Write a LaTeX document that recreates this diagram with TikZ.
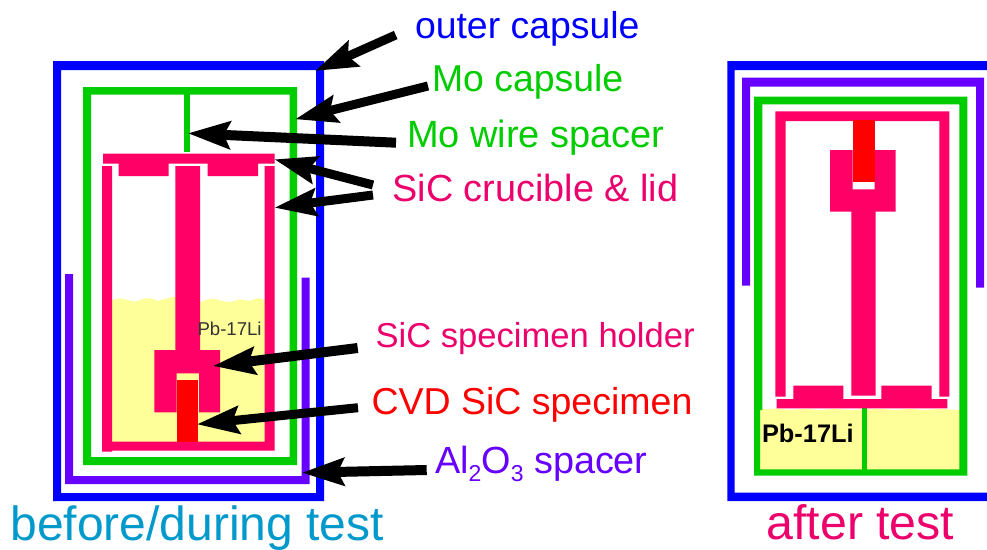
\documentclass[tikz,border=0pt]{standalone}
\usepackage{fontspec}
\setmainfont{Liberation Sans}
\usetikzlibrary{arrows.meta}
\definecolor{capblue}{HTML}{0000FF}
\definecolor{mogreen}{HTML}{00CC00}
\definecolor{sicpink}{HTML}{FF0066}
\definecolor{sictext}{HTML}{EC006C}
\definecolor{spred}{HTML}{FF0000}
\definecolor{alpurple}{HTML}{6600FF}
\definecolor{pbyellow}{HTML}{FFFF99}
\definecolor{capteal}{HTML}{0099CC}
\tikzset{
  blueshape/.style={fill=capblue,draw=none},
  greenshape/.style={fill=mogreen,draw=none},
  pinkshape/.style={fill=sicpink,draw=none},
  redshape/.style={fill=spred,draw=none},
  purpleshape/.style={fill=alpurple,draw=none},
  yellowshape/.style={fill=pbyellow,draw=none},
  lbl/.style={anchor=base west,inner sep=0pt,outer sep=0pt,font=\fontsize{#1}{40}\selectfont},
  pointer/.style={draw=black,line width=#1,-{Stealth[length=42pt,width=27pt,inset=6pt]}},
  pointer/.default=9pt
}
\begin{document}
\begin{tikzpicture}[x=1pt,y=-1pt]
\useasboundingbox (0,0) rectangle (987,549);

% ---------- before/during test ----------
% outer capsule
\fill[blueshape] (53,61) -- (324,61) -- (324,501) -- (53,501) -- cycle
  (61,70) -- (61,493) -- (316,493) -- (316,70) -- cycle;
% Al2O3 spacer
\fill[purpleshape] (65,274) -- (73,274) -- (73,476) -- (301.5,476) -- (301.5,277.5) -- (309.5,277.5) -- (309.5,484) -- (65,484) -- cycle;
% Mo capsule
\fill[greenshape] (83,87) -- (297,87) -- (297,465) -- (83,465) -- cycle
  (91,94.5) -- (91,457) -- (289.5,457) -- (289.5,94.5) -- cycle;
\fill[greenshape] (183.5,94) rectangle (190,151.5);
% Pb-17Li
\fill[yellowshape] (112,300) -- (120,298.5) -- (128,300) -- (135,302) -- (143,299) -- (150,298) -- (158,301) -- (166,298.5) -- (175,296.5)
  -- (200,302) -- (206,300) -- (213,298.5) -- (222,301) -- (230,302) -- (240,299.5) -- (250,301) -- (258,298) -- (265,300) -- (265,442) -- (112,442) -- cycle;
% crucible
\fill[pinkshape] (102,166) -- (112,166) -- (112,441.7) -- (264.7,441.7) -- (264.7,166) -- (274.7,166) -- (274.7,450.5) -- (112,450.5) -- (112,451.7) -- (102,451.7) -- cycle;
% lid
\fill[pinkshape] (103,153.5) -- (274.7,153.5) -- (274.7,163.7) -- (258,163.7) -- (258,176) -- (207.7,176) -- (207.7,163.7) -- (168.7,163.7) -- (168.7,176) -- (118.7,176) -- (118.7,163.7) -- (103,163.7) -- cycle;
% stem and holder
\fill[pinkshape] (175.3,166) -- (200,166) -- (200,350) -- (220,350) -- (220,412.3) -- (199,412.3) -- (199,373.3) -- (176.7,373.3) -- (176.7,412.3) -- (154.3,412.3) -- (154.3,350) -- (175.3,350) -- cycle;
% specimen
\fill[redshape] (176.7,380) rectangle (197.7,441.7);

% ---------- after test ----------
% outer capsule
\fill[blueshape] (987,61) -- (727.3,61) -- (727.3,501) -- (987,501) -- (987,492.7) -- (734.7,492.7) -- (734.7,70) -- (987,70) -- cycle;
% Al2O3 spacer
\fill[purpleshape] (742,285.5) -- (742,77.7) -- (984,77.7) -- (984,287.5) -- (976,287.5) -- (976,86.7) -- (750,86.7) -- (750,285.5) -- cycle;
% Pb-17Li
\fill[yellowshape] (760,409.5) -- (775,408.5) -- (790,410) -- (805,409) -- (820,410) -- (835,409) -- (850,410) -- (880,409) -- (895,410) -- (910,409) -- (925,410) -- (940,409) -- (960,410) -- (960,470) -- (760,470) -- cycle;
% Mo capsule
\fill[greenshape] (754,96.7) -- (967.3,96.7) -- (967.3,475.7) -- (754,475.7) -- cycle
  (762.3,104.3) -- (762.3,410) -- (760,410) -- (760,469.3) -- (959.3,469.3) -- (959.3,104.3) -- cycle;
\fill[greenshape] (861.7,407.3) rectangle (867,470);
% crucible
\fill[pinkshape] (775.3,396.7) -- (775.3,111.3) -- (949.3,111.3) -- (949.3,396.7) -- (939.3,396.7) -- (939.3,121) -- (785.7,121) -- (785.7,396.7) -- cycle;
% lid
\fill[pinkshape] (776.7,408.3) -- (776.7,399) -- (793.3,399) -- (793.3,385.7) -- (843.3,385.7) -- (843.3,399) -- (881.3,399) -- (881.3,385.7) -- (931.7,385.7) -- (931.7,399) -- (947.3,399) -- (947.3,408.3) -- cycle;
% stem and holder
\fill[pinkshape] (830,150) -- (852.7,150) -- (852.7,189.3) -- (874.7,189.3) -- (874.7,150) -- (895.7,150) -- (895.7,211.7) -- (875.7,211.7) -- (875.7,395.7) -- (851.3,395.7) -- (851.3,211.7) -- (830,211.7) -- cycle;
% specimen
\fill[redshape] (852.7,120) rectangle (874.7,182.3);

% ---------- labels ----------
\node[lbl=37.4,text=capblue] (outerlab) at (415,38) {outer capsule};
\node[lbl=37.4,text=mogreen] (molab) at (432,91) {Mo capsule};
\node[lbl=38,text=mogreen] (wirelab) at (407,147.5) {Mo wire spacer};
\node[lbl=37.8,text=sictext] (siclab) at (392.5,201) {SiC crucible \& lid};
\node[lbl=34.6,text=sictext] (holderlab) at (375.5,347.5) {SiC specimen holder};
\node[lbl=37.5,text=spred] (cvdlab) at (371.5,414) {CVD SiC specimen};
\node[lbl=37.8,text=alpurple] (allab) at (435,473.5) {Al\raisebox{-8pt}{\fontsize{23}{23}\selectfont 2}O\raisebox{-8pt}{\fontsize{23}{23}\selectfont 3} spacer};
\node[lbl=48,text=capteal] (beforelab) at (10.5,540) {before/during test};
\node[lbl=48.3,text=sictext] (afterlab) at (766.5,539.5) {after test};
\node[lbl=18.6,text=black!80] (pbleft) at (197.5,335) {Pb-17Li};
\node[lbl=25.4,text=black,font=\bfseries\fontsize{25.4}{28}\selectfont] (pbright) at (762,442.7) {Pb-17Li};

% ---------- pointers ----------
\coordinate (t1) at (395.7,35);   \coordinate (p1) at (315,71);
\coordinate (t2) at (428,86);     \coordinate (p2) at (295,119.3);
\coordinate (t3) at (396,142.7);  \coordinate (p3) at (187.7,133.3);
\coordinate (t4) at (373,185);    \coordinate (p4) at (274.3,159.3);
\coordinate (t5) at (373,195);    \coordinate (p5) at (274.3,207.7);
\coordinate (t6) at (357.7,348);  \coordinate (p6) at (213,366);
\coordinate (t7) at (358,407.7);  \coordinate (p7) at (196.7,424.3);
\coordinate (t8) at (426.7,470);  \coordinate (p8) at (301.7,472.7);
\draw[pointer] (t1) -- (p1);
\draw[pointer] (t2) -- (p2);
\draw[pointer=10pt] (t3) -- (p3);
\draw[pointer] (t4) -- (p4);
\draw[pointer] (t5) -- (p5);
\draw[pointer=10pt] (t6) -- (p6);
\draw[pointer] (t7) -- (p7);
\draw[pointer=10pt] (t8) -- (p8);
\end{tikzpicture}
\end{document}
